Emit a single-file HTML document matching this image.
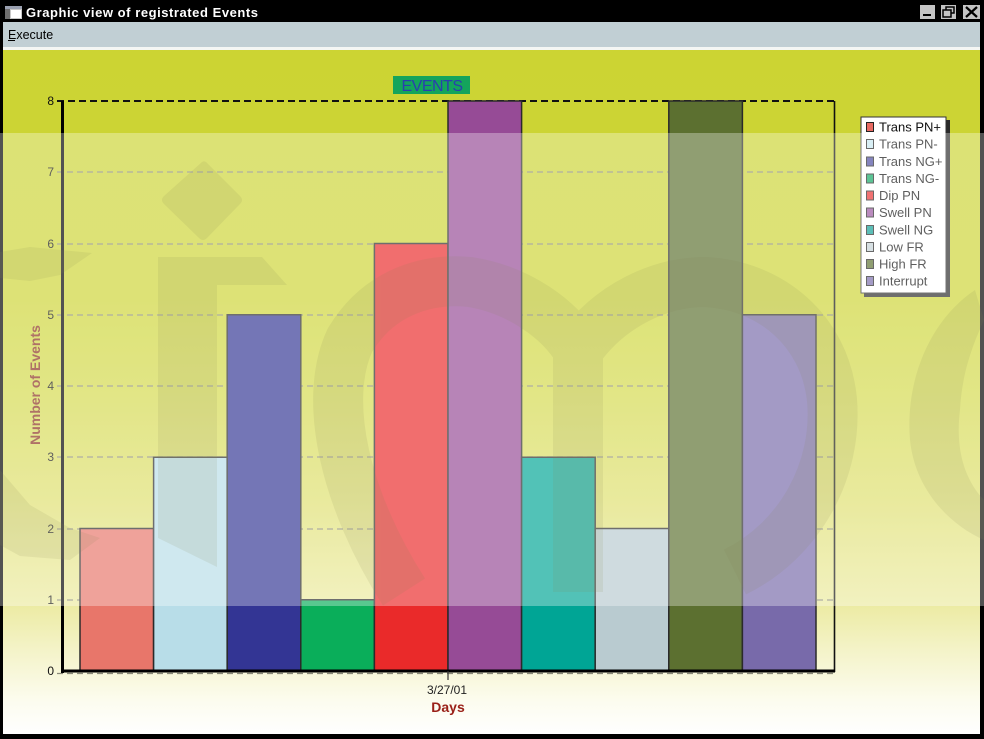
<!DOCTYPE html>
<html><head><meta charset="utf-8"><style>
html,body{margin:0;padding:0;background:#000;}
svg{display:block;}
text{font-family:"Liberation Sans",Arial,sans-serif;}
</style></head><body>
<svg width="984" height="739" viewBox="0 0 984 739" xmlns="http://www.w3.org/2000/svg">
<defs>
<linearGradient id="bg" x1="0" y1="50" x2="0" y2="734" gradientUnits="userSpaceOnUse">
<stop offset="0" stop-color="#ccd433"/>
<stop offset="0.365" stop-color="#cdd536"/>
<stop offset="0.51" stop-color="#d4da4e"/>
<stop offset="0.658" stop-color="#dfe06f"/>
<stop offset="0.804" stop-color="#ebea9f"/>
<stop offset="0.877" stop-color="#f4f3c8"/>
<stop offset="0.95" stop-color="#fcfcee"/>
<stop offset="1" stop-color="#ffffff"/>
</linearGradient>
<clipPath id="band"><rect x="0" y="133" width="984" height="473"/></clipPath>
</defs>
<!-- window frame -->
<rect x="0" y="0" width="984" height="739" fill="#000"/>
<!-- title bar -->
<rect x="5" y="6" width="17" height="13" fill="#c8c8c8"/>
<rect x="5" y="6" width="5" height="13" fill="#707070"/>
<rect x="11" y="10" width="10" height="8" fill="#fff"/>
<rect x="5" y="6" width="17" height="3" fill="#9aa0b0"/>
<text x="26" y="17" font-size="13" font-weight="bold" letter-spacing="0.55" fill="#fff">Graphic view of registrated Events</text>
<rect x="920" y="5" width="15" height="14" fill="#c4c4c4"/>
<rect x="923" y="14" width="8" height="2" fill="#000"/>
<rect x="941" y="5" width="15" height="14" fill="#c4c4c4"/>
<rect x="946" y="7" width="8" height="6" fill="none" stroke="#000" stroke-width="1.5"/>
<rect x="943" y="10" width="8" height="7" fill="#c4c4c4" stroke="#000" stroke-width="1.5"/>
<rect x="963" y="5" width="17" height="14" fill="#c4c4c4"/>
<path d="M966,7 L977,17 M977,7 L966,17" stroke="#000" stroke-width="2.2"/>
<!-- menu bar -->
<rect x="3" y="22" width="977" height="25" fill="#c1cfd4"/>
<text x="8" y="39" font-size="12.5" fill="#000">Execute</text>
<rect x="8" y="40" width="7" height="1" fill="#000"/>
<rect x="3" y="47" width="977" height="3" fill="#f4f6f4"/>
<!-- client area -->
<rect x="3" y="50" width="977" height="684" fill="url(#bg)"/>

<!-- gridlines -->
<g stroke="#8a8a7a" stroke-width="1.2" stroke-dasharray="6 4">
<line x1="57" y1="600" x2="835" y2="600"/>
<line x1="57" y1="529" x2="835" y2="529"/>
<line x1="57" y1="457" x2="835" y2="457"/>
<line x1="57" y1="386" x2="835" y2="386"/>
<line x1="57" y1="315" x2="835" y2="315"/>
<line x1="57" y1="244" x2="835" y2="244"/>
<line x1="57" y1="172" x2="835" y2="172"/>
<line x1="57" y1="673.5" x2="835" y2="673.5"/>
</g>
<line x1="57" y1="101" x2="835" y2="101" stroke="#111" stroke-width="2" stroke-dasharray="7 4"/>

<!-- bars -->
<g stroke="#2a2a2a" stroke-width="1.5">
<rect x="80" y="528.5" width="73.6" height="142.5" fill="#e8766a"/>
<rect x="153.6" y="457.25" width="73.6" height="213.75" fill="#b8dde8"/>
<rect x="227.2" y="314.75" width="73.6" height="356.25" fill="#333594"/>
<rect x="300.8" y="599.75" width="73.6" height="71.25" fill="#0aae5a"/>
<rect x="374.4" y="243.5" width="73.6" height="427.5" fill="#ea2a2a"/>
<rect x="448" y="101" width="73.6" height="570" fill="#964b96"/>
<rect x="521.6" y="457.25" width="73.6" height="213.75" fill="#00a595"/>
<rect x="595.2" y="528.5" width="73.6" height="142.5" fill="#b9cbd0"/>
<rect x="668.8" y="101" width="73.6" height="570" fill="#5c7030"/>
<rect x="742.4" y="314.75" width="73.6" height="356.25" fill="#786aaa"/>
</g>

<!-- axes -->
<line x1="834.5" y1="101" x2="834.5" y2="672" stroke="#111" stroke-width="1.6"/>
<line x1="62.5" y1="101" x2="62.5" y2="673" stroke="#000" stroke-width="3"/>
<line x1="61" y1="671" x2="835" y2="671" stroke="#000" stroke-width="3"/>
<line x1="448" y1="671" x2="448" y2="680" stroke="#333" stroke-width="1.2"/>

<!-- y tick labels -->
<g font-size="12" fill="#111" text-anchor="end">
<text x="54" y="675">0</text>
<text x="54" y="604">1</text>
<text x="54" y="533">2</text>
<text x="54" y="461">3</text>
<text x="54" y="390">4</text>
<text x="54" y="319">5</text>
<text x="54" y="248">6</text>
<text x="54" y="176">7</text>
<text x="54" y="105">8</text>
</g>
<text x="447" y="694" font-size="12" fill="#222" text-anchor="middle">3/27/01</text>
<text x="448" y="712" font-size="14" font-weight="bold" fill="#9a2018" text-anchor="middle">Days</text>
<text transform="translate(40,385) rotate(-90)" font-size="14" font-weight="bold" fill="#8a3020" text-anchor="middle">Number of Events</text>

<!-- chart title -->
<rect x="393" y="76" width="77" height="18" fill="#14a45c"/>
<text x="432" y="91" font-size="16" letter-spacing="-0.5" fill="#2a3fae" text-anchor="middle">EVENTS</text>

<!-- legend -->
<rect x="864" y="120" width="86" height="177" fill="#2a2a2a"/>
<rect x="861" y="117" width="85" height="176" fill="#fff" stroke="#333" stroke-width="1"/>
<g stroke="#222" stroke-width="1">
<rect x="866.5" y="122.5" width="7" height="9" fill="#e86a62"/>
<rect x="866.5" y="139.5" width="7" height="9" fill="#c8e8f0"/>
<rect x="866.5" y="157" width="7" height="9" fill="#4a4aa0"/>
<rect x="866.5" y="174" width="7" height="9" fill="#10a864"/>
<rect x="866.5" y="191" width="7" height="9" fill="#ea3030"/>
<rect x="866.5" y="208" width="7" height="9" fill="#9a55a0"/>
<rect x="866.5" y="225.5" width="7" height="9" fill="#10a095"/>
<rect x="866.5" y="242.5" width="7" height="9" fill="#c4d2d6"/>
<rect x="866.5" y="259.5" width="7" height="9" fill="#5c7030"/>
<rect x="866.5" y="276.5" width="7" height="9" fill="#7a6cac"/>
</g>
<g font-size="13" fill="#111">
<text x="879" y="131.5">Trans PN+</text>
<text x="879" y="148.5">Trans PN-</text>
<text x="879" y="166">Trans NG+</text>
<text x="879" y="183">Trans NG-</text>
<text x="879" y="200">Dip PN</text>
<text x="879" y="217">Swell PN</text>
<text x="879" y="234.5">Swell NG</text>
<text x="879" y="251.5">Low FR</text>
<text x="879" y="268.5">High FR</text>
<text x="879" y="285.5">Interrupt</text>
</g>

<!-- watermark shapes -->
<g clip-path="url(#band)" opacity="0.12">
<path d="M202,162 Q205,160 208,164 L240,196 Q244,200 240,204 L207,238 Q203,242 199,238 L164,204 Q160,200 164,196 Z" fill="#4a4a00"/>
<polygon points="158,257 262,257 287,285 217,285 217,567 158,538" fill="#4a4a00"/>
<polygon points="0,252 30,247 92,253 60,275 30,281 0,278" fill="#4a4a00"/>
<polygon points="0,470 30,505 70,528 100,538 70,560 20,556 0,545" fill="#4a4a00"/>
<path d="M404,592 C345,500 322,400 350,340 C380,290 430,278 470,282 C520,290 560,320 578,350 L578,592 M578,350 C610,305 660,282 705,282 C770,285 825,330 832,400 C838,470 800,540 735,572" fill="none" stroke="#4a4a00" stroke-width="50"/>
<path d="M975,290 C930,320 905,380 910,440 C915,490 950,525 984,540 L984,500 C965,480 955,450 960,410 C962,370 975,340 984,320 Z" fill="#4a4a00"/>
</g>

<!-- translucent white band -->
<rect x="0" y="133" width="984" height="473" fill="#fff" opacity="0.32"/>
</svg>
</body></html>
